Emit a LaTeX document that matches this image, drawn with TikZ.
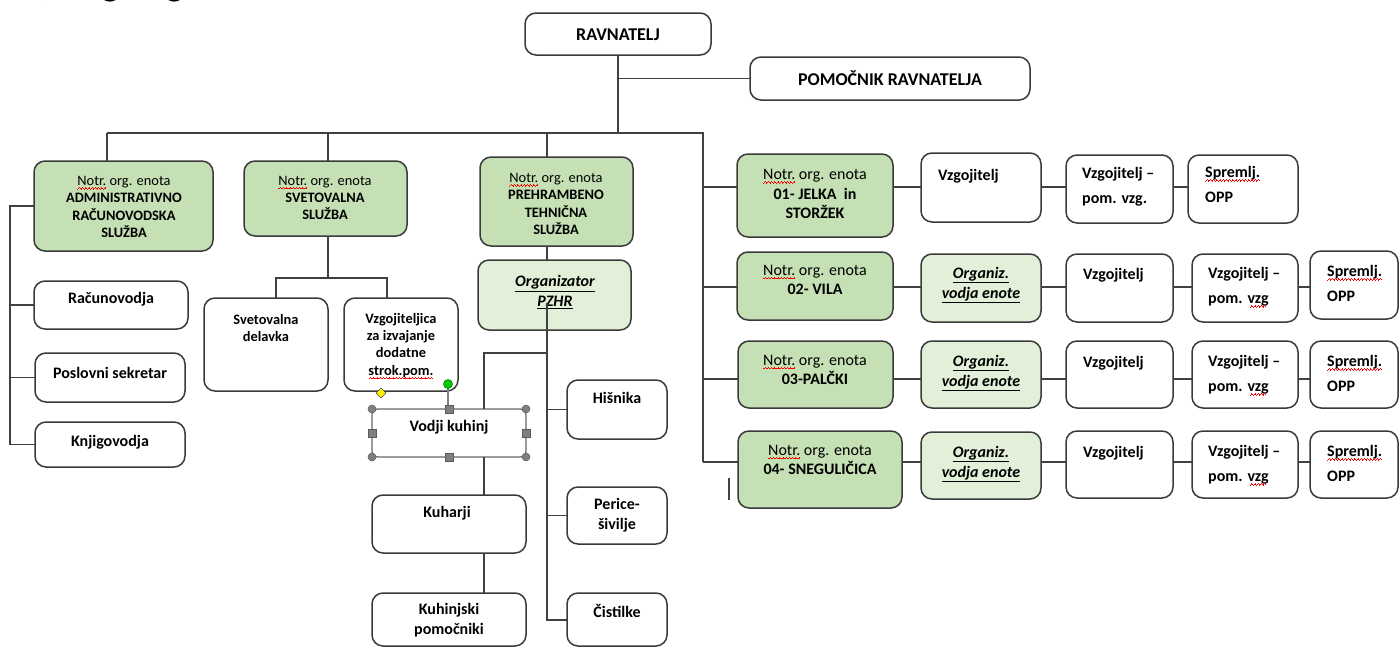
\documentclass[tikz,border=0pt]{standalone}
\usepackage{fontspec}
\setmainfont{Carlito}
\usetikzlibrary{fit,shapes.geometric}
\newcommand\spell[1]{\leavevmode\setbox0\hbox{#1}\rlap{\copy0}\textcolor{red}{\leaders\hbox{\rule[-3.8pt]{0.8pt}{0.7pt}\rule[-3.1pt]{0.8pt}{0.7pt}\rule[-2.4pt]{0.8pt}{0.7pt}\rule[-3.1pt]{0.8pt}{0.7pt}}\hskip\wd0}}
\definecolor{gdark}{HTML}{C5E0B4}
\definecolor{glight}{HTML}{E2F0D9}
\definecolor{bc}{HTML}{3A3A3A}
\definecolor{lc}{HTML}{404040}
\definecolor{hg}{HTML}{808080}
\newcommand\fR{\fontsize{16}{19.5}\selectfont\bfseries}
\newcommand\fS{\fontsize{14.4}{17.4}\selectfont\bfseries}
\newcommand\fL{\fontsize{18}{22}\selectfont\bfseries}
\newcommand\fW{\fontsize{16}{25}\selectfont\bfseries}
\begin{document}
\begin{tikzpicture}[x=1pt,y=-1pt,
  ln/.style={draw=lc, line width=1.4pt},
  bx/.style={draw=bc, line width=1.5pt, rounded corners=11pt, inner sep=0pt, outer sep=0pt},
  gbox/.style={bx, fill=gdark},
  lbox/.style={bx, fill=glight},
  wbox/.style={bx, fill=white},
  txt/.style={inner sep=0pt, align=center, font=\fR},
  stxt/.style={inner sep=0pt, align=center, font=\fS},
  wtxt/.style={inner sep=0pt, align=left, anchor=north west, font=\fW},
  handle/.style={fill=hg, draw=hg!70!black, line width=0.5pt}]
\useasboundingbox (0,0) rectangle (1400,648);
% clipped heading
\node[anchor=base west, inner sep=0pt, font=\fontsize{38}{40}\selectfont] (head) at (24,-5) {3) Organigram};
% top
\node[wbox, fit={(525,13)(711,55)}] (rav) {};
\node[txt, font=\fL] (ravt) at (618,35) {RAVNATELJ};
\node[wbox, fit={(750,57)(1030,100)}] (pom) {};
\node[txt, font=\fL] (pomt) at (890,78) {POMOČNIK RAVNATELJA};
% three units
\node[gbox, fit={(34,161)(213,251)}] (adm) {};
\node[stxt] (admt) at (124,207) {{\mdseries\spell{Notr.} org. enota}\\ADMINISTRATIVNO\\RAČUNOVODSKA\\SLUŽBA};
\node[gbox, fit={(244,161)(407,236)}] (svs) {};
\node[stxt] (svst) at (325,198) {{\mdseries\spell{Notr.} org. enota}\\SVETOVALNA\\SLUŽBA};
\node[gbox, fit={(480,157)(633,246)}] (preh) {};
\node[stxt] (preht) at (556,204) {{\mdseries\spell{Notr.} org. enota}\\PREHRAMBENO\\TEHNIČNA\\SLUŽBA};
\node[lbox, fit={(478,260)(631,330)}] (org) {};
\node[txt] (orgt) at (555,292) {\itshape\underline{Organizator}\\\itshape\underline{PZHR}};
% admin children
\node[wbox, fit={(34,281)(188,329)}] (rac) {};
\node[txt] (ract) at (111,299) {Računovodja};
\node[wbox, fit={(35,353)(185,402)}] (pos) {};
\node[txt] (post) at (110,373) {Poslovni sekretar};
\node[wbox, fit={(35,422)(185,467)}] (knj) {};
\node[txt] (knjt) at (110,442) {Knjigovodja};
% svetovalna children
\node[wbox, fit={(204,298)(328,391)}] (svd) {};
\node[stxt] (svdt) at (266,328) {Svetovalna\\delavka};
\node[wbox, fit={(344,298)(458,391)}] (vzi) {};
\node[stxt] (vzit) at (401,346) {Vzgojiteljica\\za izvajanje\\dodatne\\\spell{strok.pom.}};
% kitchen
\node[wbox, draw=hg!80!black, line width=1.2pt, rounded corners=6pt, fit={(372,409)(526,457)}] (vod) {};
\node[txt] (vodt) at (449,427) {Vodji kuhinj};
\node[wbox, fit={(372,495)(526,553)}] (kuh) {};
\node[txt] (kuht) at (447,513) {Kuharji};
\node[wbox, fit={(372,593)(526,646)}] (kpm) {};
\node[txt] (kpmt) at (449,620) {Kuhinjski\\pomočniki};
\node[wbox, fit={(567,380)(667,439)}] (his) {};
\node[txt] (hist) at (617,398) {Hišnika};
\node[wbox, fit={(567,487)(667,544)}] (per) {};
\node[txt] (pert) at (617,515) {Perice-\\šivilje};
\node[wbox, fit={(567,593)(667,646)}] (cis) {};
\node[txt] (cist) at (617,611) {Čistilke};
% units rows
\node[gbox, fit={(737,154)(893,237)}] (g1) {};
\node[txt] (g1t) at (815,194) {{\mdseries\spell{Notr.} org. enota}\\01- JELKA \ in\\STORŽEK};
\node[wbox, fit={(921,153)(1041,222)}] (v1) {};
\node[wtxt] (v1t) at (938,169) {Vzgojitelj};
\node[wbox, fit={(1066,155)(1173,223)}] (p1) {};
\node[wtxt] (p1t) at (1082,167) {Vzgojitelj –\\pom. vzg.};
\node[wbox, fit={(1188,155)(1298,223)}] (s1) {};
\node[wtxt] (s1t) at (1205,166) {\spell{Spremlj.}\\OPP};
\node[gbox, fit={(737,252)(893,320)}] (g2) {};
\node[txt] (g2t) at (815,280) {{\mdseries\spell{Notr.} org. enota}\\02- VILA};
\node[lbox, fit={(921,254)(1041,322)}] (o2) {};
\node[txt] (o2t) at (981,285) {\itshape\underline{Organiz.}\\\itshape\underline{vodja enote}};
\node[wbox, fit={(1066,254)(1173,322)}] (v2) {};
\node[wtxt] (v2t) at (1083,268) {Vzgojitelj};
\node[wbox, fit={(1192,254)(1298,322)}] (p2) {};
\node[wtxt] (p2t) at (1208,267) {Vzgojitelj –\\pom. \spell{vzg}};
\node[wbox, fit={(1310,251)(1398,319)}] (s2) {};
\node[wtxt] (s2t) at (1327,265) {\spell{Spremlj.}\\OPP};
\node[gbox, fit={(738,341)(893,408)}] (g3) {};
\node[txt] (g3t) at (815,370) {{\mdseries\spell{Notr.} org. enota}\\03-PALČKI};
\node[lbox, fit={(921,341)(1041,408)}] (o3) {};
\node[txt] (o3t) at (981,373) {\itshape\underline{Organiz.}\\\itshape\underline{vodja enote}};
\node[wbox, fit={(1066,341)(1173,408)}] (v3) {};
\node[wtxt] (v3t) at (1083,356) {Vzgojitelj};
\node[wbox, fit={(1192,341)(1298,408)}] (p3) {};
\node[wtxt] (p3t) at (1208,355) {Vzgojitelj –\\pom. \spell{vzg}};
\node[wbox, fit={(1310,341)(1398,408)}] (s3) {};
\node[wtxt] (s3t) at (1327,355) {\spell{Spremlj.}\\OPP};
\node[gbox, fit={(738,431)(902,508)}] (g4) {};
\node[txt] (g4t) at (820,460) {{\mdseries\spell{Notr.} org. enota}\\04- SNEGULIČICA};
\node[lbox, fit={(921,432)(1041,499)}] (o4) {};
\node[txt] (o4t) at (981,464) {\itshape\underline{Organiz.}\\\itshape\underline{vodja enote}};
\node[wbox, fit={(1066,431)(1173,498)}] (v4) {};
\node[wtxt] (v4t) at (1083,446) {Vzgojitelj};
\node[wbox, fit={(1192,431)(1298,498)}] (p4) {};
\node[wtxt] (p4t) at (1208,445) {Vzgojitelj –\\pom. \spell{vzg}};
\node[wbox, fit={(1310,431)(1398,498)}] (s4) {};
\node[wtxt] (s4t) at (1327,445) {\spell{Spremlj.}\\OPP};
% connectors
\coordinate (j0) at (618,133);
\coordinate (jl) at (107,133);
\coordinate (js) at (328,133);
\coordinate (jp) at (547,133);
\coordinate (jr) at (703,133);
\coordinate (r1) at (703,187);
\coordinate (r2) at (703,287);
\coordinate (r3) at (703,379);
\coordinate (r4) at (703,462);
\draw[ln] (rav.south) -- (j0);
\draw[ln] (rav.south |- pom.west) -- (pom.west);
\draw[ln] (jl) -- (jr) -- (r4);
\draw[ln] (jl) -- (jl |- adm.north);
\draw[ln] (js) -- (js |- svs.north);
\draw[ln] (jp) -- (jp |- preh.north);
\draw[ln] (jp |- preh.south) -- (jp |- org.north);
% admin bracket
\coordinate (ab) at (10,206);
\draw[ln] (adm.west) -- (ab) -- (ab |- knj.west) -- (knj.west);
\draw[ln] (ab |- rac.west) -- (rac.west);
\draw[ln] (ab |- pos.west) -- (pos.west);
% svetovalna
\coordinate (sb) at (328,278);
\coordinate (sl) at (276,278);
\coordinate (sr) at (387,278);
\draw[ln] (sb |- svs.south) -- (sb);
\draw[ln] (sl |- svd.north) -- (sl) -- (sr) -- (sr |- vzi.north);
% prehrambeno
\coordinate (pz) at (547,303);
\coordinate (pc) at (547,620);
\coordinate (kb) at (547,353);
\coordinate (kv) at (484,353);
\draw[ln] (pz) -- (pc) -- (pc -| cis.west);
\draw[ln] (pz |- his.west) -- (his.west);
\draw[ln] (pz |- per.west) -- (per.west);
\draw[ln] (kb) -- (kv) -- (kv |- vod.north);
\draw[ln] (kv |- vod.south) -- (kv |- kuh.north);
\draw[ln] (kv |- kuh.south) -- (kv |- kpm.north);
% rows
\draw[ln] (r1) -- (r1 -| g1.west);
\draw[ln] (r1 -| g1.east) -- (r1 -| v1.west);
\draw[ln] (r1 -| v1.east) -- (r1 -| p1.west);
\draw[ln] (r1 -| p1.east) -- (r1 -| s1.west);
\draw[ln] (r2) -- (r2 -| g2.west);
\draw[ln] (r2 -| g2.east) -- (r2 -| o2.west);
\draw[ln] (r2 -| o2.east) -- (r2 -| v2.west);
\draw[ln] (r2 -| v2.east) -- (r2 -| p2.west);
\draw[ln] (r2 -| p2.east) -- (r2 -| s2.west);
\draw[ln] (r3) -- (r3 -| g3.west);
\draw[ln] (r3 -| g3.east) -- (r3 -| o3.west);
\draw[ln] (r3 -| o3.east) -- (r3 -| v3.west);
\draw[ln] (r3 -| v3.east) -- (r3 -| p3.west);
\draw[ln] (r3 -| p3.east) -- (r3 -| s3.west);
\draw[ln] (r4) -- (r4 -| g4.west);
\draw[ln] (r4 -| g4.east) -- (r4 -| o4.west);
\draw[ln] (r4 -| o4.east) -- (r4 -| v4.west);
\draw[ln] (r4 -| v4.east) -- (r4 -| p4.west);
\draw[ln] (r4 -| p4.east) -- (r4 -| s4.west);
% stray mark
\coordinate (m1) at (729,478);
\coordinate (m2) at (729,500);
\draw[ln] (m1) -- (m2);
% selection handles on Vodji kuhinj
\coordinate (gd) at (448,384);
\draw[hg, line width=1.2pt] (gd) -- (vod.north -| gd);
\foreach \p in {vod.north west, vod.north east, vod.south west, vod.south east}
  \fill[handle] (\p) circle (4pt);
\foreach \p in {vod.north, vod.south, vod.west, vod.east}
  \filldraw[handle] ([shift={(-4,-4)}]\p) rectangle ([shift={(4,4)}]\p);
\filldraw[fill=green!80!black, draw=green!40!black, line width=0.5pt] (gd) circle (4.5pt);
\filldraw[fill=yellow, draw=black!70, line width=0.5pt] (381,388) -- (386,393) -- (381,398) -- (376,393) -- cycle;
\end{tikzpicture}
\end{document}
